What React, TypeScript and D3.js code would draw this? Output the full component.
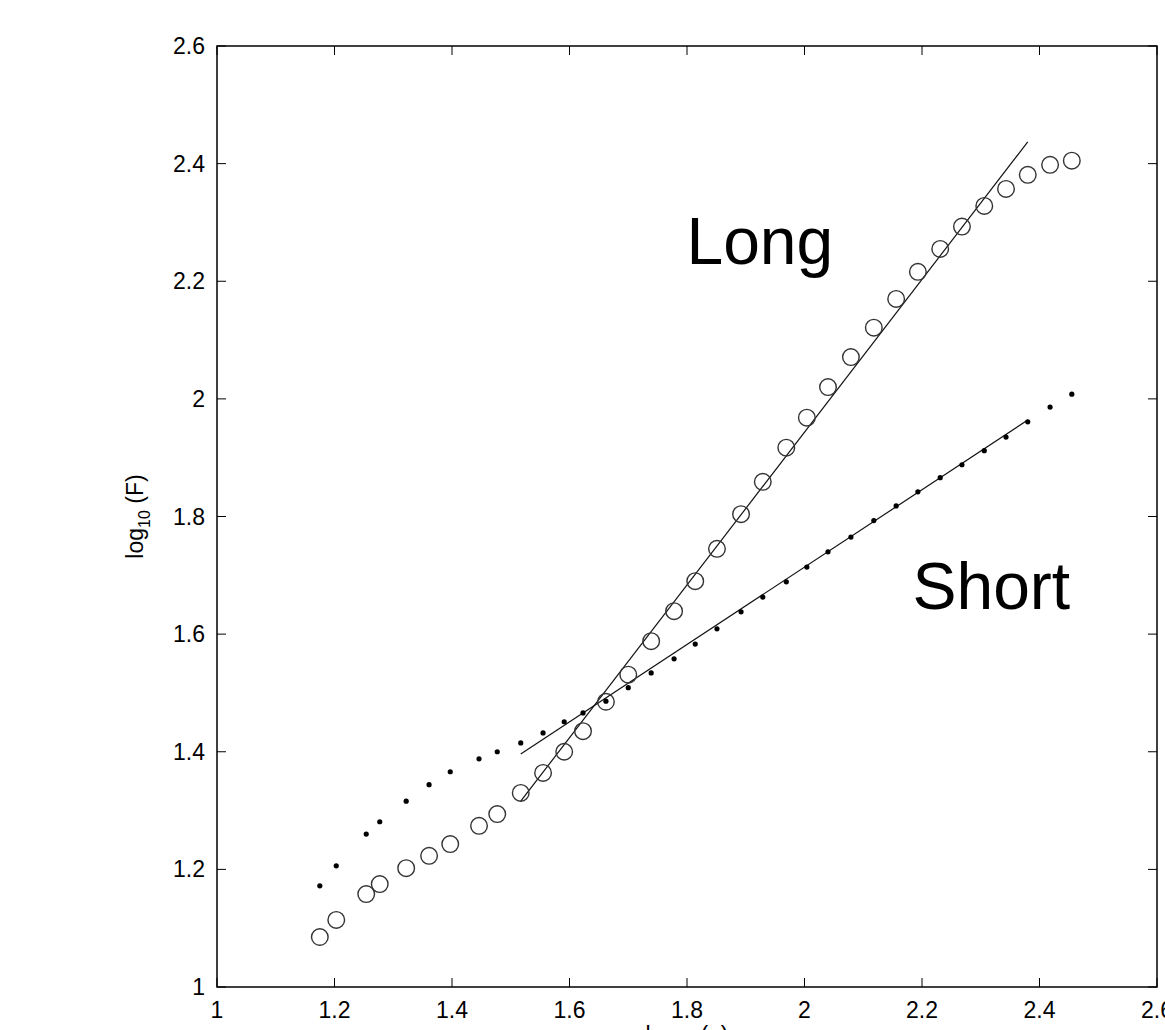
import * as d3 from "d3";

const W = 1165;
const H = 1030;
const margin = { left: 217, right: 1157, top: 46, bottom: 987 };

// x positions (log10 n) shared by both series
const logN = [
  1.175, 1.203, 1.254, 1.277, 1.322, 1.361, 1.397, 1.446, 1.477, 1.517, 1.555, 1.591,
  1.623, 1.662, 1.7, 1.739, 1.778, 1.814, 1.851, 1.892, 1.929, 1.969, 2.004, 2.04,
  2.079, 2.118, 2.156, 2.193, 2.231, 2.268, 2.306, 2.343, 2.38, 2.418, 2.455,
];

const longF = [
  1.085, 1.114, 1.158, 1.175, 1.202, 1.223, 1.243, 1.274, 1.294, 1.33, 1.364, 1.4,
  1.435, 1.485, 1.531, 1.588, 1.639, 1.69, 1.745, 1.804, 1.859, 1.917, 1.968, 2.02,
  2.071, 2.121, 2.17, 2.216, 2.255, 2.293, 2.328, 2.357, 2.381, 2.398, 2.405,
];

const shortF = [
  1.172, 1.206, 1.26, 1.281, 1.316, 1.344, 1.366, 1.388, 1.4, 1.415, 1.432, 1.451,
  1.466, 1.486, 1.509, 1.534, 1.558, 1.583, 1.609, 1.638, 1.663, 1.689, 1.714, 1.74,
  1.765, 1.793, 1.818, 1.842, 1.866, 1.888, 1.912, 1.935, 1.961, 1.986, 2.008,
];

// fitted lines: [x0, y0, x1, y1]
const longFit = [1.517, 1.316, 2.38, 2.437];
const shortFit = [1.517, 1.396, 2.38, 1.964];

const xTicks = [1, 1.2, 1.4, 1.6, 1.8, 2, 2.2, 2.4, 2.6];
const yTicks = [1, 1.2, 1.4, 1.6, 1.8, 2, 2.2, 2.4, 2.6];

const font = "Liberation Sans, Arial, Helvetica, sans-serif";

export default function App() {
  const x = d3.scaleLinear().domain([1, 2.6]).range([margin.left, margin.right]);
  const y = d3.scaleLinear().domain([1, 2.6]).range([margin.bottom, margin.top]);
  const tickLen = 9;
  const fmt = (v: number) => String(+v.toFixed(1));
  const line = d3
    .line<number[]>()
    .x((d) => x(d[0]))
    .y((d) => y(d[1]));

  return (
    <svg
      width={W}
      height={H}
      style={{ position: "absolute", left: 0, top: 0, background: "#fff" }}
      fontFamily={font}
    >
      <rect x={0} y={0} width={W} height={H} fill="#fff" />

      {/* fit lines */}
      <path
        d={line([[longFit[0], longFit[1]], [longFit[2], longFit[3]]]) || ""}
        stroke="#111"
        strokeWidth={1.2}
        fill="none"
      />
      <path
        d={line([[shortFit[0], shortFit[1]], [shortFit[2], shortFit[3]]]) || ""}
        stroke="#111"
        strokeWidth={1.2}
        fill="none"
      />

      {/* short: dots */}
      {logN.map((n, i) => (
        <circle key={"s" + i} cx={x(n)} cy={y(shortF[i])} r={2.6} fill="#000" />
      ))}
      {/* long: open circles */}
      {logN.map((n, i) => (
        <circle
          key={"l" + i}
          cx={x(n)}
          cy={y(longF[i])}
          r={8.3}
          fill="none"
          stroke="#333"
          strokeWidth={1.4}
        />
      ))}

      {/* frame */}
      <rect
        x={margin.left}
        y={margin.top}
        width={margin.right - margin.left}
        height={margin.bottom - margin.top}
        fill="none"
        stroke="#000"
        strokeWidth={1.5}
      />

      {/* x ticks */}
      {xTicks.map((t) => (
        <g key={"x" + t}>
          <line x1={x(t)} x2={x(t)} y1={margin.bottom} y2={margin.bottom - tickLen} stroke="#000" />
          <line x1={x(t)} x2={x(t)} y1={margin.top} y2={margin.top + tickLen} stroke="#000" />
          <text x={x(t)} y={margin.bottom + 31} textAnchor="middle" fontSize={23} fill="#000">
            {fmt(t)}
          </text>
        </g>
      ))}

      {/* y ticks */}
      {yTicks.map((t) => (
        <g key={"y" + t}>
          <line x1={margin.left} x2={margin.left + tickLen} y1={y(t)} y2={y(t)} stroke="#000" />
          <line x1={margin.right} x2={margin.right - tickLen} y1={y(t)} y2={y(t)} stroke="#000" />
          <text x={margin.left - 12} y={y(t) + 8} textAnchor="end" fontSize={23} fill="#000">
            {fmt(t)}
          </text>
        </g>
      ))}

      {/* axis labels */}
      <text
        transform={`translate(143, ${(margin.top + margin.bottom) / 2}) rotate(-90)`}
        textAnchor="middle"
        fontSize={23}
        fill="#000"
      >
        log
        <tspan fontSize={16} dy={7}>10</tspan>
        <tspan dy={-7}> (F)</tspan>
      </text>
      <text
        x={(margin.left + margin.right) / 2}
        y={1043}
        textAnchor="middle"
        fontSize={23}
        fill="#000"
      >
        log
        <tspan fontSize={16} dy={7}>10</tspan>
        <tspan dy={-7}> (n)</tspan>
      </text>

      {/* annotations */}
      <text x={x(1.924)} y={y(2.23)} textAnchor="middle" fontSize={66} fill="#000">
        Long
      </text>
      <text x={x(2.318)} y={y(1.642)} textAnchor="middle" fontSize={66} fill="#000">
        Short
      </text>
    </svg>
  );
}
